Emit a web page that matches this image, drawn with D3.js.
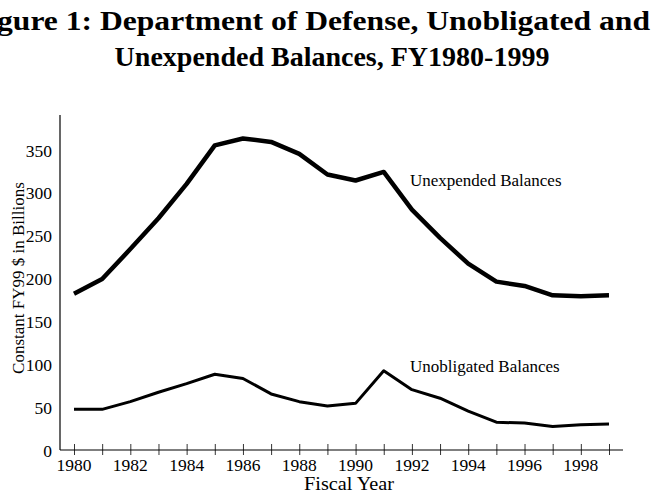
<!DOCTYPE html>
<html>
<head>
<meta charset="utf-8">
<script src="https://cdn.jsdelivr.net/npm/d3@7"></script>
<style>
  body { margin: 0; background: #fff; }
  svg { display: block; }
  text { font-family: "Liberation Serif", "Times New Roman", serif; fill: #000; }
</style>
</head>
<body>
<div id="chart"></div>
<script>
const width = 663;
const height = 493;

// data
const years = d3.range(1980, 2000);
const unexpended = [183, 200, 235, 271, 311, 356, 364, 360, 346, 322, 315, 325, 281, 248, 218, 197, 192, 181, 180, 181];
const unobligated = [48, 48, 57, 68, 78, 89, 84, 66, 57, 52, 55, 93, 71, 61, 46, 33, 32, 28, 30, 31];
const yTicks = [0, 50, 100, 150, 200, 250, 300, 350];
const xLabels = d3.range(1980, 2000, 2);
const titleLines = ["Figure 1: Department of Defense, Unobligated and", "Unexpended Balances, FY1980-1999"];

const svg = d3.select("#chart")
  .append("svg")
  .attr("width", width)
  .attr("height", height);

const x = d3.scaleLinear().domain([1980, 1999]).range([74, 609]);
const y = d3.scaleLinear().domain([0, 350]).range([450.5, 150.5]);

// TITLE (first line runs past the left edge in the original)
svg.append("text")
  .attr("x", -31)
  .attr("y", 30)
  .attr("font-weight", "bold")
  .attr("font-size", "28px")
  .attr("textLength", 681)
  .attr("lengthAdjust", "spacingAndGlyphs")
  .text(titleLines[0]);

svg.append("text")
  .attr("x", 332)
  .attr("y", 66)
  .attr("text-anchor", "middle")
  .attr("font-weight", "bold")
  .attr("font-size", "28px")
  .text(titleLines[1]);

// AXES
svg.append("line")
  .attr("x1", 60).attr("x2", 60)
  .attr("y1", 115).attr("y2", 450)
  .attr("stroke", "#000").attr("stroke-width", 1.2);

const xAxis = svg.append("g")
  .attr("transform", "translate(0,450)")
  .call(d3.axisBottom(x).tickValues(years).tickSize(0).tickFormat(""));
xAxis.select(".domain").remove();
xAxis.append("line")
  .attr("x1", 60).attr("x2", 623)
  .attr("stroke", "#000").attr("stroke-width", 1.2);
xAxis.selectAll(".tick line")
  .attr("y1", -6).attr("y2", 5)
  .attr("stroke", "#333");

svg.append("g")
  .selectAll("text")
  .data(xLabels)
  .enter()
  .append("text")
  .attr("x", d => x(d))
  .attr("y", 471)
  .attr("text-anchor", "middle")
  .attr("font-size", "17.5px")
  .text(d => d);

svg.append("g")
  .selectAll("text")
  .data(yTicks)
  .enter()
  .append("text")
  .attr("x", 52)
  .attr("y", d => y(d) + 6)
  .attr("text-anchor", "end")
  .attr("font-size", "17.5px")
  .text(d => d);

svg.append("text")
  .attr("x", 349)
  .attr("y", 490)
  .attr("text-anchor", "middle")
  .attr("font-size", "18px")
  .attr("textLength", 90)
  .attr("lengthAdjust", "spacingAndGlyphs")
  .text("Fiscal Year");

svg.append("text")
  .attr("transform", "translate(24,278) rotate(-90)")
  .attr("text-anchor", "middle")
  .attr("font-size", "17px")
  .text("Constant FY99 $ in Billions");

// LINES
const line = vals => d3.line()
  .x((d, i) => x(years[i]))
  .y(d => y(d))(vals);

svg.append("path")
  .attr("d", line(unexpended))
  .attr("fill", "none")
  .attr("stroke", "#000")
  .attr("stroke-width", 4.5)
  .attr("stroke-linejoin", "round");

svg.append("path")
  .attr("d", line(unobligated))
  .attr("fill", "none")
  .attr("stroke", "#000")
  .attr("stroke-width", 3)
  .attr("stroke-linejoin", "round");

// LABELS
svg.append("text")
  .attr("x", 410).attr("y", 186)
  .attr("font-size", "17px")
  .text("Unexpended Balances");

svg.append("text")
  .attr("x", 410).attr("y", 372)
  .attr("font-size", "17px")
  .text("Unobligated Balances");
</script>
</body>
</html>
